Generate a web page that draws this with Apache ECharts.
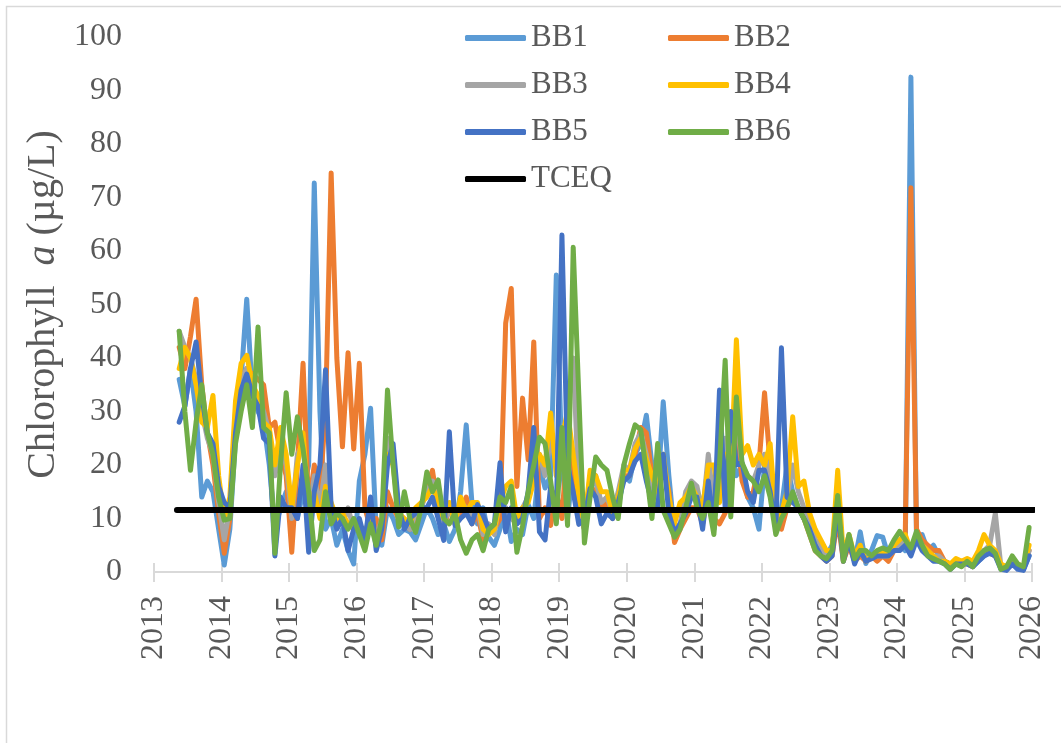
<!DOCTYPE html>
<html>
<head>
<meta charset="utf-8">
<script src="https://cdn.jsdelivr.net/npm/echarts@6/dist/echarts.min.js"></script>
<style>
html,body{margin:0;padding:0;background:#fff;}
#chart{width:1061px;height:743px;}
</style>
</head>
<body>
<div id="chart"></div>
<script>
// Sampling months: May 2013 .. Dec 2025 (monthly), as decimal years
const firstYear = 2013, firstMonth = 5, lastYear = 2025;
const dates = [];
for (let y = firstYear; y <= lastYear; y++) {
  for (let m = (y === firstYear ? firstMonth : 1); m <= 12; m++) {
    dates.push(+(y + (m - 1) / 12 + 0.04).toFixed(3));
  }
}

const seriesNames = ['BB1', 'BB2', 'BB3', 'BB4', 'BB5', 'BB6'];
const seriesColors = ['#5B9BD5', '#ED7D31', '#A5A5A5', '#FFC000', '#4472C4', '#70AD47'];

const bb1 = [
  36, 31, 38, 30, 14, 17, 15, 8,
  1.3, 8, 25, 36, 51, 33, 30, 28, 20, 8, 12, 15,
  14, 10, 15, 20, 72.7, 30, 8, 10, 5, 8, 4, 1.5,
  17, 22, 30.6, 8, 5, 12, 10, 7, 8, 7.5, 6, 9,
  12, 10, 7, 9, 5.7, 8, 15, 27.5, 13, 9, 12, 6.5,
  5, 8, 12, 5.7, 8, 7, 12.6, 10, 20, 15.7, 18, 55.5,
  20, 10, 20, 12, 8, 15, 18, 12, 14, 10, 12, 18,
  17, 22, 24, 29.3, 20, 15, 31.8, 18, 7, 9, 12, 15,
  15, 10, 17, 10, 20, 15, 22, 18, 20, 14, 12, 8,
  20, 16, 8, 12, 20, 15, 12, 10, 9, 6, 4, 3,
  5, 12, 3, 6, 2, 7.5, 1.6, 4, 6.8, 6.5, 3, 4,
  5, 4, 92.5, 6, 7, 4, 5, 3, 2, 1.5, 2, 1.5,
  2, 1, 2, 3, 4, 3, 1, 0.5, 2, 1, 0.5, 3
];
const bb2 = [
  42, 38, 44, 51, 35, 26, 20, 11,
  3.5, 10, 28, 36, 38, 37, 36, 35, 27, 28, 22, 18,
  3.7, 20, 39, 12, 20, 15, 30, 74.6, 40, 23.4, 41, 23,
  39, 12, 8, 10, 6, 15, 12, 10, 9, 8, 10, 12,
  16, 19, 12, 8, 12, 10, 11, 14, 9, 11, 6, 8,
  8, 10, 46.5, 53, 16, 32.5, 21, 43, 10, 12, 8.7, 15,
  10, 25, 20, 12, 8, 16, 15, 12, 13, 10, 14, 18,
  18, 22, 27, 26, 18, 14, 20, 15, 5.5, 8, 10, 12,
  12, 9, 15, 10, 9, 11, 18, 28, 17, 14, 15, 20,
  33.5, 20, 10, 8, 12, 14, 12, 10, 7, 4, 3, 2,
  3, 10, 2, 5, 2, 3, 2, 3, 2, 3, 2, 4,
  5, 7, 71.8, 8, 6, 5, 4, 4, 2, 1.5, 2, 2,
  1.5, 1, 2.5, 4, 3.5, 3, 1, 0.5, 2.5, 1, 0.5, 4
];
const bb3 = [
  45, 42, 40, 36, 30, 25, 22, 13,
  6, 12, 30, 36, 38, 32, 33, 30, 26, 18, 24, 20,
  10, 22, 24, 10, 18, 12, 20, 12, 10, 9, 12, 8,
  8, 6, 12, 6, 10, 25, 22, 10, 9, 8, 11, 12,
  15, 17, 14, 9, 12, 9, 13, 12, 10, 12, 7, 9,
  7, 14, 12, 10, 9, 12, 14, 20, 22, 18, 25, 20,
  22, 30, 40, 15, 8, 18, 17, 13, 14, 11, 15, 20,
  19, 24, 26, 22, 16, 13, 21, 13, 8, 9, 15, 17,
  16, 11, 22, 12, 15, 25, 20, 30, 20, 18, 17, 20,
  22, 18, 9, 10, 14, 20, 15, 12, 10, 6, 5, 3,
  4, 13, 3, 6, 2.5, 4, 2, 3, 3, 3, 3, 4,
  5, 6, 4, 7, 5, 4, 3, 3, 2, 1, 2, 2,
  2, 1.5, 3, 4, 5, 11, 1, 1, 2, 1, 1, 4
];
const bb4 = [
  38, 42, 40, 35, 28, 27, 33, 18,
  10, 14, 32, 39, 40.5, 35, 33, 28, 27, 20, 27, 22,
  12, 20, 26, 12, 15, 10, 16, 13, 10, 11, 9, 8,
  9, 7, 11, 6, 9, 22, 20, 11, 10, 9, 12, 13,
  14, 16, 13, 10, 13, 9, 14, 11, 13, 13, 8, 7,
  8, 13, 16, 17, 10, 12, 13, 17, 22, 20, 29.7, 18,
  25, 30, 22, 14, 9, 19, 18, 15, 15, 11, 14, 19,
  19, 23, 25, 21, 18, 15, 22, 14, 9, 13, 14, 16,
  14, 12, 20, 20, 13, 22, 18, 43.4, 22, 23.6, 20, 22,
  20, 24, 10, 11, 15, 29, 16, 17, 11, 8, 6, 4,
  4, 19, 3, 7, 3, 5, 2, 3, 3, 4, 3, 5,
  6, 7, 4, 6, 5, 4, 3, 2, 2, 1.5, 2.5, 2,
  2.5, 2, 4, 7, 5, 4, 1.5, 1, 2.5, 1.5, 1, 5
];
const bb5 = [
  28, 31, 38, 43, 33, 26, 24, 16,
  13, 12, 26, 34, 37, 33, 31, 25, 24, 3, 14, 12,
  12, 10, 20, 3.7, 15, 20, 37.8, 12, 8, 10, 4, 8,
  10, 6, 14, 4, 8, 20, 24, 12, 8, 10, 11, 12,
  12, 14, 10, 5.9, 26.2, 8.7, 10, 11, 9, 12.6, 10.6, 8,
  9, 20.4, 7.5, 12, 9, 10, 15, 27, 7.5, 6, 16, 10.6,
  63, 20, 15, 8.9, 10, 15.6, 14, 9, 11, 10, 13, 17,
  18, 20.7, 22, 17, 13, 12, 22, 11, 7.3, 9, 11, 14,
  14, 8, 17, 8, 34, 12, 30, 20, 20.4, 15, 13, 19,
  19, 15, 8, 41.9, 14, 13, 12, 10, 8, 5, 3, 2,
  3, 12, 2, 6, 1.5, 4, 2, 2.5, 3, 3, 3, 4,
  4, 5, 3, 6, 4, 3, 2, 2, 1.5, 0.5, 1.5, 1.5,
  1.5, 1, 2, 3, 3.5, 3, 0.5, 0.3, 1.5, 0.5, 0.3, 3
];
const bb6 = [
  45, 30, 19, 28, 35, 26, 22, 14,
  9.7, 10, 24, 30, 35, 27, 45.8, 27, 26, 3.5, 20, 33.5,
  22, 29, 23, 15, 4, 6, 15, 9, 11, 10, 8, 10,
  7, 4, 9, 5, 10, 34, 20, 8.4, 15, 10, 7.4, 12,
  18.7, 15, 17.2, 10, 9, 11, 6, 3.5, 6, 7, 4, 8,
  9, 14, 13, 16, 3.7, 8.7, 15, 20, 25.2, 24, 17, 9,
  27, 8.7, 60.7, 33, 5.4, 14, 21.5, 20, 19, 14, 10, 20,
  24, 27.5, 26.6, 18.7, 10, 24, 11.5, 9, 6.5, 8, 12, 16.6,
  12, 10, 13, 7, 20, 39.6, 10.3, 32.7, 20.4, 18, 17, 15,
  18, 14, 7, 10, 12, 15, 12, 10, 7, 4, 3, 2.5,
  4, 14.3, 2, 7, 2.5, 4, 4, 3, 4, 4.5, 4, 6,
  7.6, 6, 4.5, 7.6, 5, 3, 2.5, 2, 1.5, 0.5, 1.5, 1,
  2, 1, 3, 4, 4.5, 3.5, 0.5, 1, 3, 1.5, 1, 8.3
];
const stationValues = [bb1, bb2, bb3, bb4, bb5, bb6];

// TCEQ screening level (horizontal reference)
const tceqName = 'TCEQ';
const tceqSpan = [2013.34, 2026.03];
const tceqLevel = 11.6;

// Axis ticks
const xTickMin = 2013, xTickMax = 2026, xTickStep = 1;
const yTickMin = 0, yTickMax = 100, yTickStep = 10;

const FONT = '"Liberation Serif", "Times New Roman", serif';
const TXT = '#595959';

const series = seriesNames.map((name, i) => ({
  name: name,
  type: 'line',
  data: dates.map((d, k) => [d, stationValues[i][k]]),
  showSymbol: false,
  symbol: 'none',
  lineStyle: { color: seriesColors[i], width: 5, join: 'round', cap: 'round' },
  itemStyle: { color: seriesColors[i] },
  z: 2 + i
}));
series.push({
  name: tceqName,
  type: 'line',
  data: tceqSpan.map(t => [t, tceqLevel]),
  showSymbol: false,
  symbol: 'none',
  clip: false,
  lineStyle: { color: '#000', width: 6, cap: 'round' },
  itemStyle: { color: '#000' },
  z: 10
});

const legendCommon = {
  orient: 'vertical',
  padding: 0,
  icon: 'roundRect',
  itemWidth: 61,
  itemHeight: 6,
  itemGap: 15,
  textStyle: { fontFamily: FONT, fontSize: 31, color: TXT, lineHeight: 32 }
};

const chart = echarts.init(document.getElementById('chart'), null, { renderer: 'canvas' });
chart.setOption({
  animation: false,
  backgroundColor: '#fff',
  graphic: [{
    type: 'rect',
    shape: { x: 6.5, y: 6.5, width: 1200, height: 1000 },
    style: { fill: 'none', stroke: '#d9d9d9', lineWidth: 1.5 },
    silent: true, z: -10
  }],
  grid: { left: 154, right: 29, top: 37, bottom: 171 },
  legend: [
    Object.assign({}, legendCommon, { left: 465, top: 22, data: ['BB1', 'BB3', 'BB5', 'TCEQ'] }),
    Object.assign({}, legendCommon, { left: 668, top: 22, data: ['BB2', 'BB4', 'BB6'] })
  ],
  xAxis: [{
    type: 'value',
    min: xTickMin, max: xTickMax, interval: xTickStep,
    axisLine: { show: true, lineStyle: { color: '#d9d9d9', width: 2 } },
    axisTick: { show: true, length: 10, lineStyle: { color: '#d9d9d9', width: 2 } },
    splitLine: { show: false },
    axisLabel: {
      rotate: 90, margin: 24,
      fontFamily: FONT, fontSize: 32, color: TXT,
      formatter: v => String(Math.round(v))
    }
  }, {
    type: 'value',
    position: 'bottom',
    min: xTickMin, max: xTickMax, interval: xTickStep,
    axisLine: { show: false },
    axisTick: { show: true, inside: true, length: 9, lineStyle: { color: '#d9d9d9', width: 2 } },
    axisLabel: { show: false },
    splitLine: { show: false }
  }],
  yAxis: {
    type: 'value',
    min: yTickMin, max: yTickMax, interval: yTickStep,
    axisLine: { show: false },
    axisTick: { show: false },
    splitLine: { show: false },
    axisLabel: { margin: 32, fontFamily: FONT, fontSize: 32, color: TXT },
    name: '{n|Chlorophyll  }{i|a}{n| (µg/L)}',
    nameLocation: 'middle',
    nameRotate: 90,
    nameGap: 88,
    nameTextStyle: {
      fontFamily: FONT, fontSize: 40, color: TXT,
      rich: {
        n: { fontFamily: FONT, fontSize: 40, color: TXT },
        i: { fontFamily: FONT, fontSize: 40, color: TXT, fontStyle: 'italic' }
      }
    }
  },
  series: series
});
</script>
</body>
</html>
